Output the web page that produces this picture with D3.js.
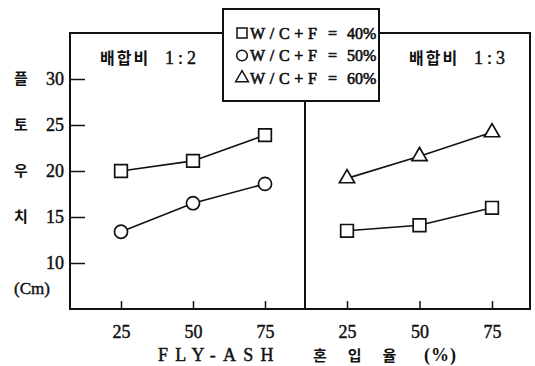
<!DOCTYPE html>
<html>
<head>
<meta charset="utf-8">
<script src="https://cdn.jsdelivr.net/npm/d3@7"></script>
<style>
  body { margin: 0; background: #fff; }
  svg { display: block; }
</style>
</head>
<body>
<div id="chart"></div>
<script>
// fly-ash replacement ratio (%)
var flyAsh = [25, 50, 75];
// mix 1:2
var mix12W40 = [20.0, 21.1, 23.9];
var mix12W50 = [13.4, 16.5, 18.6];
// mix 1:3
var mix13W40 = [13.5, 14.1, 16.0];
var mix13W60 = [19.2, 21.6, 24.2];

var yTicks = [10, 15, 20, 25, 30];
var yTitle = ["플", "토", "우", "치"];
var legendNames = ["W/C+F", "W/C+F", "W/C+F"];
var legendValues = ["40%", "50%", "60%"];
var panelTitles = ["1:2", "1:3"];

var svg = d3.select("#chart").append("svg")
  .attr("width", 535).attr("height", 366);

var ink = "#111";
var serif = "'Liberation Serif', 'Times New Roman', serif";
var kr = "'Noto Sans CJK KR', sans-serif";

var y = d3.scaleLinear().domain([5, 35]).range([309, 33]);
var xL = d3.scaleLinear().domain([25, 75]).range([121, 265]);
var xR = d3.scaleLinear().domain([25, 75]).range([347, 492]);

var left = 70, right = 530, mid = 305;

// scanned text is a bit heavier than the regular cut
function heavy(sel, w) {
  sel.attr("stroke", ink).attr("stroke-width", w || 0.45).attr("paint-order", "stroke");
}

// outer frame and divider
svg.append("rect")
  .attr("x", left).attr("y", y(35))
  .attr("width", right - left).attr("height", y(5) - y(35))
  .attr("fill", "none").attr("stroke", ink).attr("stroke-width", 2);
svg.append("line")
  .attr("x1", mid).attr("x2", mid).attr("y1", y(35)).attr("y2", y(5))
  .attr("stroke", ink).attr("stroke-width", 2);

// y axis
var yAxis = svg.append("g").attr("transform", "translate(" + left + ",0)")
  .call(d3.axisLeft(y).tickValues(yTicks).tickSize(-15).tickPadding(6));
yAxis.select(".domain").remove();
yAxis.selectAll("line").attr("stroke", ink).attr("stroke-width", 1.5);
yAxis.selectAll("text").attr("font-family", serif).attr("font-size", 18).attr("fill", ink)
  .call(heavy);

// y title, one syllable per tick row
svg.selectAll(".ytitle").data(yTitle).enter().append("text")
  .attr("x", 21).attr("y", function (d, i) { return y(yTicks[yTicks.length - 1 - i]); })
  .attr("dy", "0.36em")
  .attr("text-anchor", "middle")
  .attr("font-family", kr).attr("font-size", 15).attr("font-weight", "bold").attr("fill", ink)
  .text(function (d) { return d; });
svg.append("text")
  .attr("x", 14).attr("y", y(10) + 25).attr("dy", "0.35em")
  .attr("font-family", serif).attr("font-size", 17).attr("fill", ink)
  .call(heavy)
  .text("(Cm)");

// x axes
[xL, xR].forEach(function (sc) {
  var g = svg.append("g").attr("transform", "translate(0," + y(5) + ")")
    .call(d3.axisBottom(sc).tickValues(flyAsh).tickSize(-8).tickPadding(16));
  g.select(".domain").remove();
  g.selectAll("line").attr("stroke", ink).attr("stroke-width", 1.5);
  g.selectAll("text").attr("font-family", serif).attr("font-size", 18).attr("fill", ink)
    .call(heavy);
});

// x title
var xt = svg.append("text").attr("y", 361).attr("fill", ink);
xt.append("tspan").attr("x", 158).attr("font-family", serif).attr("font-size", 18)
  .attr("letter-spacing", 7.2).call(heavy).text("FLY-ASH");
xt.append("tspan").attr("x", 313).attr("font-family", kr).attr("font-size", 15)
  .attr("font-weight", "bold").attr("letter-spacing", 21).text("혼입율");
xt.append("tspan").attr("x", 424).attr("font-family", serif).attr("font-size", 18)
  .attr("font-weight", "bold").attr("letter-spacing", 1).text("(%)");

// panel titles
[[100, panelTitles[0]], [409, panelTitles[1]]].forEach(function (p) {
  var t = svg.append("text").attr("y", 64).attr("fill", ink);
  t.append("tspan").attr("x", p[0]).attr("font-family", kr).attr("font-size", 16)
    .attr("font-weight", "bold").attr("letter-spacing", 2).text("배합비");
  t.append("tspan").attr("x", p[0] + 65).attr("font-family", serif).attr("font-size", 18)
    .attr("letter-spacing", 4).call(heavy).text(p[1]);
});

// series
var series = [
  { x: xL, v: mix12W40, sym: d3.symbolSquare, size: 160 },
  { x: xL, v: mix12W50, sym: d3.symbolCircle, size: 135 },
  { x: xR, v: mix13W40, sym: d3.symbolSquare, size: 160 },
  { x: xR, v: mix13W60, sym: d3.symbolTriangle, size: 100 }
];

series.forEach(function (s) {
  var pts = flyAsh.map(function (f, i) { return [s.x(f), y(s.v[i])]; });
  svg.append("path")
    .attr("d", d3.line()(pts))
    .attr("fill", "none").attr("stroke", ink).attr("stroke-width", 1.6);
  svg.selectAll(null).data(pts).enter().append("path")
    .attr("transform", function (d) { return "translate(" + d[0] + "," + d[1] + ")"; })
    .attr("d", d3.symbol().type(s.sym).size(s.size))
    .attr("fill", "#fff").attr("stroke", ink).attr("stroke-width", 1.7);
});

// legend box
var lg = svg.append("g");
lg.append("rect")
  .attr("x", 223).attr("y", 9).attr("width", 156).attr("height", 92)
  .attr("fill", "#fff").attr("stroke", ink).attr("stroke-width", 2);
var legSyms = [d3.symbolSquare, d3.symbolCircle, d3.symbolTriangle];
var legSizes = [100, 90, 70];
legendNames.forEach(function (name, i) {
  var cy = 33 + i * 22.5;
  lg.append("path")
    .attr("transform", "translate(242," + cy + ")")
    .attr("d", d3.symbol().type(legSyms[i]).size(legSizes[i]))
    .attr("fill", "#fff").attr("stroke", ink).attr("stroke-width", 1.5);
  var t = lg.append("text").attr("y", cy).attr("dy", "0.35em")
    .attr("font-family", serif).attr("font-size", 16)
    .attr("fill", ink).call(heavy, 0.6);
  t.append("tspan").attr("x", 250).attr("textLength", 67).attr("lengthAdjust", "spacing").text(name);
  t.append("tspan").attr("x", 328).text("=");
  t.append("tspan").attr("x", 347).text(legendValues[i]);
});
</script>
</body>
</html>
